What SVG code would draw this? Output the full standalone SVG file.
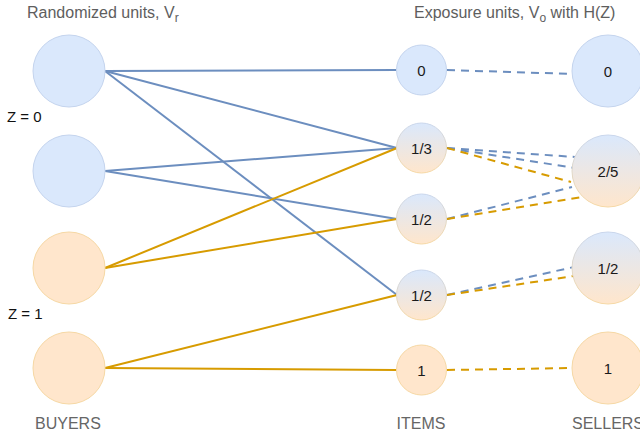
<svg xmlns="http://www.w3.org/2000/svg" width="640" height="438" viewBox="0 0 640 438">
<style>
.t{font-family:"Liberation Sans",Arial,sans-serif;}
.hd{font-size:16px;fill:#5e5e5e;}
.ft{font-size:16px;fill:#666666;}
.z{font-size:15px;fill:#111111;}
.lb{font-size:15px;fill:#1a1a1a;text-anchor:middle;dominant-baseline:central;}
.blue{fill:#dae8fc;stroke:#c4d4ee;stroke-width:1;}
.orange{fill:#ffe6cc;stroke:#f6d8a4;stroke-width:1;}
.mix{fill:url(#gf);stroke:url(#gs);stroke-width:1;}
.eb{stroke:#6c8ebf;stroke-width:2;fill:none;}
.eo{stroke:#d79b00;stroke-width:2;fill:none;}
.d{stroke-dasharray:8 6;}
</style>
<defs>
<linearGradient id="gf" x1="0" y1="0" x2="0" y2="1">
<stop offset="0" stop-color="#dae8fc"/>
<stop offset="1" stop-color="#ffe6cc"/>
</linearGradient>
<linearGradient id="gs" x1="0" y1="0" x2="0" y2="1">
<stop offset="0" stop-color="#c9d6ec"/>
<stop offset="1" stop-color="#f6d8a4"/>
</linearGradient>
</defs>
<rect width="640" height="438" fill="#ffffff"/>

<g id="connectors">
<line class="eb" x1="105" y1="71" x2="396" y2="70"/>
<line class="eb" x1="105" y1="71" x2="397" y2="148"/>
<line class="eb" x1="105" y1="71" x2="397" y2="295"/>
<line class="eb" x1="105" y1="171" x2="397" y2="148"/>
<line class="eb" x1="105" y1="171" x2="397" y2="219"/>
<line class="eo" x1="105" y1="268" x2="397" y2="148"/>
<line class="eo" x1="105" y1="268" x2="397" y2="219"/>
<line class="eo" x1="105" y1="368" x2="397" y2="295"/>
<line class="eo" x1="105" y1="368" x2="396" y2="370"/>

<line class="eb d" x1="447" y1="70" x2="573" y2="74"/>
<line class="eb d" x1="447" y1="148" x2="575" y2="157"/>
<line class="eb d" x1="447" y1="148" x2="575" y2="168"/>
<line class="eo d" x1="447" y1="148" x2="571" y2="182"/>
<line class="eb d" x1="447" y1="219" x2="572" y2="187"/>
<line class="eo d" x1="447" y1="219" x2="582" y2="197"/>
<line class="eb d" x1="447" y1="295" x2="574" y2="267"/>
<line class="eo d" x1="447" y1="295" x2="574" y2="276"/>
<line class="eo d" x1="447" y1="370" x2="573" y2="368"/>
</g>

<g id="buyer1"><circle class="blue" cx="69" cy="71" r="36"/></g>
<g id="buyer2"><circle class="blue" cx="69" cy="171" r="36"/></g>
<g id="buyer3"><circle class="orange" cx="69" cy="268" r="36"/></g>
<g id="buyer4"><circle class="orange" cx="69" cy="368" r="36"/></g>

<g id="item1"><circle class="blue" cx="421.5" cy="70" r="25"/><text class="t lb" x="421.5" y="70">0</text></g>
<g id="item2"><circle class="mix" cx="421.5" cy="148" r="25"/><text class="t lb" x="421.5" y="148">1/3</text></g>
<g id="item3"><circle class="mix" cx="421.5" cy="219" r="25"/><text class="t lb" x="421.5" y="219">1/2</text></g>
<g id="item4"><circle class="mix" cx="421.5" cy="295" r="25"/><text class="t lb" x="421.5" y="295">1/2</text></g>
<g id="item5"><circle class="orange" cx="421.5" cy="370" r="25"/><text class="t lb" x="421.5" y="370">1</text></g>

<g id="seller1"><circle class="blue" cx="608" cy="71" r="36"/><text class="t lb" x="608" y="71">0</text></g>
<g id="seller2"><circle class="mix" cx="608" cy="171" r="36"/><text class="t lb" x="608" y="171">2/5</text></g>
<g id="seller3"><circle class="mix" cx="608" cy="268" r="36"/><text class="t lb" x="608" y="268">1/2</text></g>
<g id="seller4"><circle class="orange" cx="608" cy="368" r="36"/><text class="t lb" x="608" y="368">1</text></g>

<g id="labels">
<text class="t hd" x="27" y="18">Randomized units, V<tspan font-size="12" dy="4">r</tspan></text>
<text class="t hd" x="414" y="18">Exposure units, V<tspan font-size="12" dy="4">o</tspan><tspan dy="-4"> with H(Z)</tspan></text>
<text class="t z" x="7" y="122">Z = 0</text>
<text class="t z" x="8" y="319">Z = 1</text>
<text class="t ft" x="35" y="429">BUYERS</text>
<text class="t ft" x="421" y="429" text-anchor="middle">ITEMS</text>
<text class="t ft" x="572" y="429">SELLERS</text>
</g>
</svg>
